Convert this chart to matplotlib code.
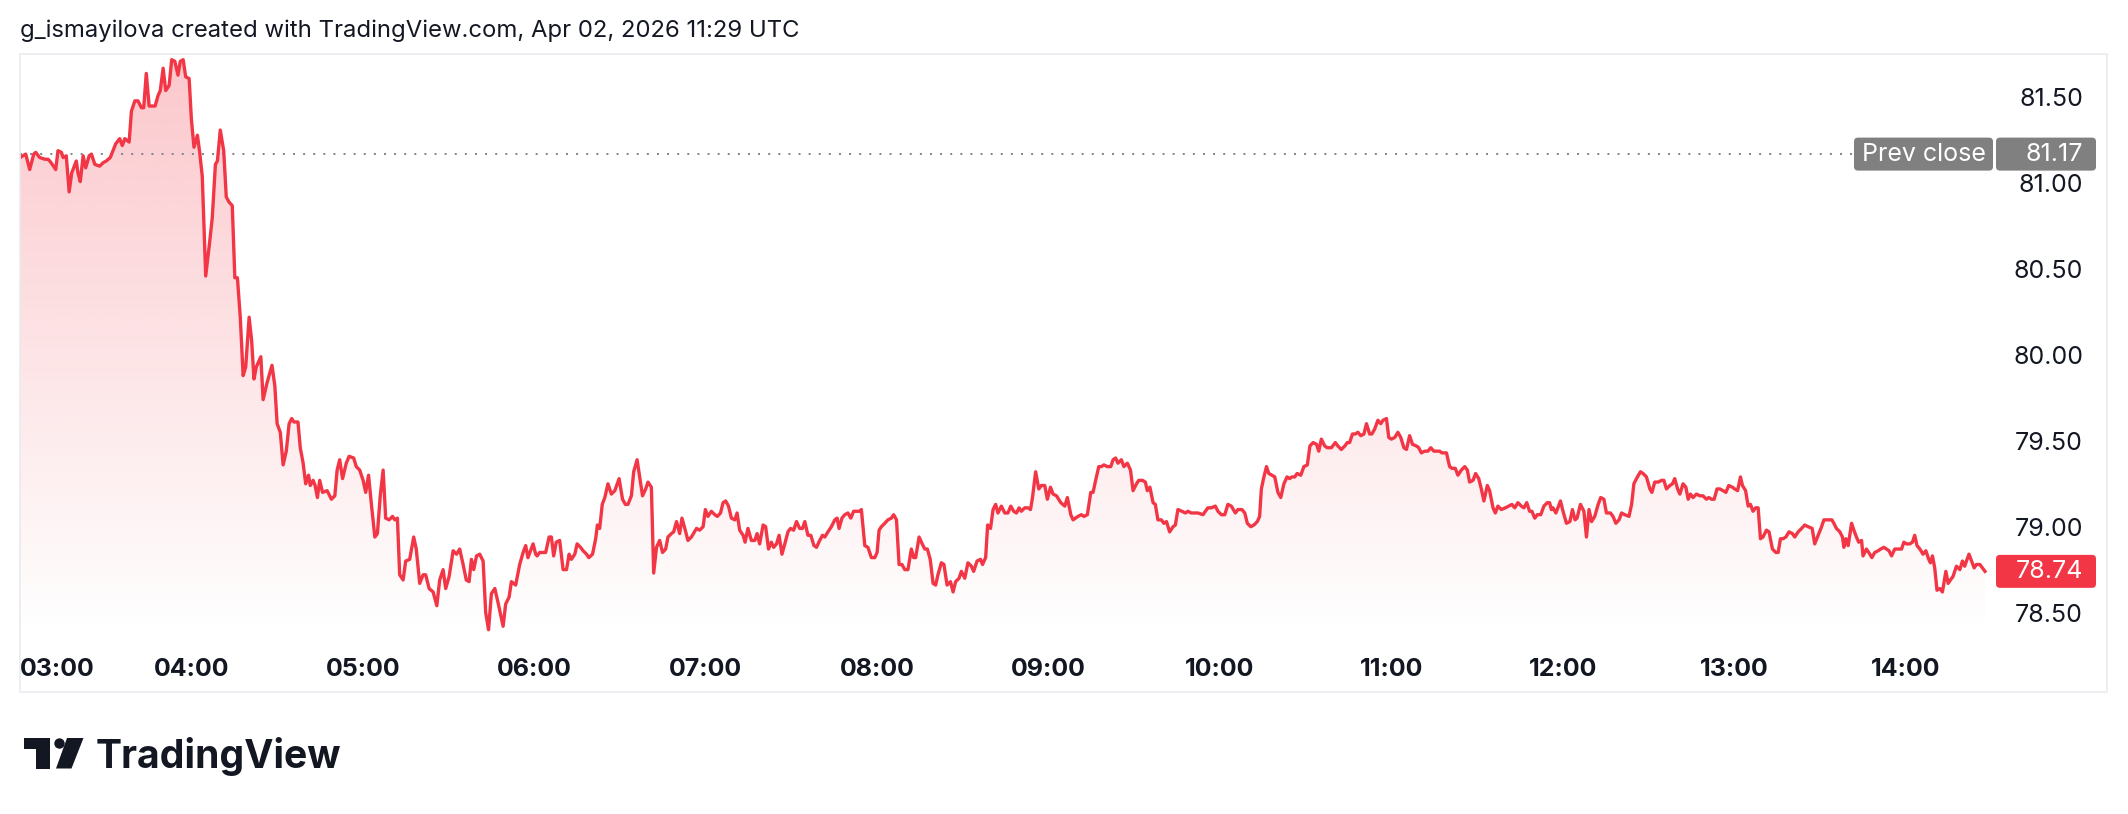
import numpy as np
import matplotlib
matplotlib.use('Agg')
import matplotlib.pyplot as plt
import matplotlib.transforms as mtransforms
from matplotlib.patches import FancyBboxPatch, Rectangle, Circle, Polygon

plt.rcParams['font.family'] = ['Inter', 'DejaVu Sans']

#DATA: minutes after 03:00 and last price
min_a = [0.0, 2.0, 3.4, 4.8, 5.5, 6.9, 8.7, 9.8, 10.4, 11.3,
         12.5, 13.3, 14.5, 15.1, 16.2, 17.2, 18.1, 19.7, 20.3, 21.1,
         22.1, 23.0, 24.2, 25.0, 26.2, 27.9, 29.1, 30.2, 31.6, 33.5,
         34.9, 35.8, 36.7, 38.2, 39.0, 40.2, 41.3, 42.5, 43.3, 44.2,
         45.2, 46.6, 47.3, 48.3, 49.1, 50.1, 51.0, 52.2, 53.1, 54.2,
         55.3, 56.1, 57.1, 58.0, 59.2, 60.0, 60.9, 62.1, 62.9, 63.8,
         65.0, 66.4, 67.3, 68.4, 69.1, 70.1, 71.3, 72.2, 73.2, 74.3,
         75.2, 76.1, 77.1, 78.1, 79.0, 80.2, 81.1, 81.9, 82.7, 84.3,
         85.1, 86.5, 88.2, 89.2, 90.0, 91.1, 92.1, 93.2, 94.2, 95.1,
         95.9, 97.3, 98.1, 99.1, 100.0, 101.0, 101.6, 102.6, 103.3, 104.1,
         104.9, 105.9, 107.5, 109.0, 110.2, 111.0, 111.9, 112.9, 114.2, 115.2,
         116.8, 117.7, 118.9, 120.1, 121.0, 122.0, 123.0, 124.2, 125.1, 126.1,
         127.1, 128.0, 129.2, 130.4, 131.2, 132.1, 132.9, 134.1, 135.0, 136.4,
         137.8, 138.7, 139.9, 141.1, 142.0, 143.2, 144.6, 145.9, 146.9, 148.1,
         149.0, 150.2, 151.6, 152.8, 153.9, 155.1, 156.2, 157.2, 158.0, 158.8,
         159.8, 160.9, 162.1, 163.0, 164.0, 165.0, 166.2, 167.3, 169.1, 170.0,
         171.2, 172.0, 173.5, 174.9, 176.1, 177.0, 177.8, 179.6, 180.5]
px_a = [81.15, 81.17, 81.08, 81.17, 81.18, 81.15, 81.14, 81.14, 81.13, 81.11,
        81.08, 81.19, 81.18, 81.15, 81.16, 80.95, 81.06, 81.13, 81.06, 81.01,
        81.16, 81.09, 81.16, 81.17, 81.11, 81.10, 81.12, 81.13, 81.15, 81.23,
        81.26, 81.22, 81.26, 81.24, 81.42, 81.48, 81.48, 81.44, 81.44, 81.64,
        81.45, 81.45, 81.45, 81.51, 81.54, 81.67, 81.54, 81.57, 81.72, 81.71,
        81.63, 81.71, 81.72, 81.62, 81.61, 81.37, 81.21, 81.28, 81.18, 81.04,
        80.46, 80.66, 80.80, 81.11, 81.13, 81.31, 81.19, 80.92, 80.89, 80.87,
        80.45, 80.45, 80.22, 79.88, 79.93, 80.22, 80.08, 79.86, 79.93, 79.99,
        79.74, 79.84, 79.94, 79.82, 79.60, 79.55, 79.36, 79.44, 79.60, 79.63,
        79.61, 79.61, 79.46, 79.37, 79.25, 79.30, 79.24, 79.27, 79.24, 79.17,
        79.27, 79.20, 79.21, 79.16, 79.18, 79.33, 79.39, 79.28, 79.37, 79.41,
        79.40, 79.35, 79.33, 79.27, 79.20, 79.30, 79.13, 78.94, 78.96, 79.18,
        79.33, 79.05, 79.04, 79.06, 79.04, 79.05, 78.72, 78.69, 78.80, 78.81,
        78.94, 78.87, 78.67, 78.72, 78.72, 78.64, 78.62, 78.54, 78.69, 78.75,
        78.64, 78.71, 78.86, 78.84, 78.87, 78.78, 78.69, 78.68, 78.81, 78.75,
        78.83, 78.84, 78.80, 78.50, 78.40, 78.61, 78.64, 78.56, 78.42, 78.55,
        78.59, 78.68, 78.66, 78.78, 78.85, 78.89, 78.82, 78.90, 78.84]

min_b = [181.0, 181.9, 184.0, 185.2, 186.0, 186.8, 187.7, 188.9, 190.1, 191.3,
         192.2, 193.0, 194.2, 195.0, 196.2, 197.1, 198.3, 199.1, 200.4, 201.5,
         202.1, 202.9, 203.8, 204.7, 205.8, 207.0, 208.2, 209.7, 210.9, 211.9,
         212.8, 214.0, 214.8, 216.0, 216.9, 217.9, 219.0, 219.8, 221.0, 221.8,
         222.8, 223.9, 224.9, 226.0, 226.8, 228.0, 228.8, 229.8, 230.9, 231.7,
         232.7, 233.8, 235.0, 236.8, 237.9, 239.1, 239.9, 240.8, 242.0, 243.2,
         244.1, 245.2, 246.1, 247.0, 248.0, 249.0, 250.2, 251.0, 251.9, 253.1,
         253.8, 254.8, 256.0, 257.2, 258.0, 258.9, 260.1, 261.0, 262.0, 263.0,
         263.8, 264.8, 265.7, 266.7, 267.7, 268.8, 269.7, 270.8, 271.8, 272.9,
         273.9, 274.7, 275.8, 276.8, 277.9, 278.8, 279.9, 280.9, 281.7, 282.8,
         284.0, 285.2, 286.0, 286.7, 287.7, 288.7, 289.8, 290.8, 291.8, 292.8,
         293.9, 294.5, 295.7, 296.8, 298.0, 299.2, 300.0, 300.7, 301.5, 302.7,
         303.8, 305.0, 305.8, 306.8, 307.7, 308.7, 309.7, 310.8, 312.0, 312.8,
         313.5, 314.7, 315.8, 316.7, 317.6, 318.6, 319.6, 320.5, 321.3, 322.5,
         323.4, 324.5, 325.7, 326.6, 327.5, 328.7, 329.5, 330.7, 331.8, 333.0,
         333.8, 335.0, 336.2, 336.9, 338.0, 338.7, 339.7, 340.6, 341.5, 342.3,
         343.5, 344.7, 345.8, 346.8, 347.8, 348.8, 349.7, 350.5, 351.7, 352.8,
         353.7, 354.4, 355.5]
px_b = [78.83, 78.85, 78.85, 78.94, 78.94, 78.83, 78.91, 78.92, 78.75, 78.75,
        78.84, 78.81, 78.84, 78.90, 78.88, 78.86, 78.84, 78.82, 78.84, 78.93,
        79.01, 78.99, 79.13, 79.17, 79.25, 79.19, 79.21, 79.28, 79.16, 79.13,
        79.13, 79.18, 79.32, 79.39, 79.29, 79.18, 79.22, 79.26, 79.23, 78.73,
        78.88, 78.92, 78.85, 78.87, 78.94, 78.96, 78.97, 79.03, 78.96, 79.05,
        78.99, 78.92, 78.94, 78.99, 78.98, 79.00, 79.10, 79.06, 79.09, 79.07,
        79.06, 79.08, 79.14, 79.15, 79.12, 79.05, 79.04, 79.08, 78.98, 78.95,
        78.91, 78.99, 78.92, 78.92, 78.96, 78.90, 79.01, 79.00, 78.87, 78.91,
        78.88, 78.90, 78.95, 78.84, 78.90, 78.97, 78.99, 78.98, 79.03, 78.99,
        78.99, 79.03, 78.95, 78.95, 78.89, 78.88, 78.92, 78.95, 78.94, 78.97,
        79.00, 79.04, 79.05, 78.99, 79.05, 79.07, 79.08, 79.05, 79.09, 79.09,
        79.09, 79.10, 78.89, 78.88, 78.82, 78.82, 78.85, 78.98, 79.00, 79.02,
        79.04, 79.05, 79.07, 79.04, 78.78, 78.78, 78.75, 78.75, 78.87, 78.82,
        78.82, 78.94, 78.90, 78.87, 78.87, 78.81, 78.67, 78.66, 78.72, 78.79,
        78.78, 78.66, 78.68, 78.62, 78.68, 78.70, 78.74, 78.70, 78.79, 78.77,
        78.74, 78.80, 78.81, 78.78, 78.82, 79.01, 78.99, 79.10, 79.13, 79.08,
        79.12, 79.08, 79.08, 79.12, 79.09, 79.08, 79.11, 79.09, 79.11, 79.11,
        79.10, 79.17, 79.32]

min_c = [356.6, 357.5, 358.7, 359.6, 360.7, 361.6, 362.8, 364.3, 365.7, 366.6,
         367.8, 368.6, 370.3, 371.5, 372.4, 373.6, 374.8, 375.6, 376.5, 377.6,
         378.5, 379.4, 380.6, 381.8, 382.6, 383.5, 384.3, 385.5, 386.4, 387.6,
         388.7, 389.6, 390.8, 391.6, 392.9, 393.9, 394.6, 395.5, 396.6, 397.4,
         398.3, 399.5, 400.4, 401.3, 402.4, 403.6, 404.4, 405.3, 406.7, 407.9,
         408.8, 410.0, 412.3, 414.1, 414.9, 415.8, 417.0, 418.4, 419.3, 420.5,
         421.7, 422.8, 424.0, 425.4, 426.3, 427.7, 428.7, 429.6, 430.8, 431.9,
         433.1, 433.9, 434.5, 435.4, 436.3, 437.1, 438.2, 439.2, 440.3, 441.3,
         442.4, 443.5, 444.4, 445.2, 446.2, 447.0, 448.3, 449.4, 450.6, 451.5,
         452.6, 453.8, 454.6, 455.5, 456.7, 457.6, 459.0, 460.4, 461.3, 462.5,
         463.7, 464.6, 465.4, 466.4, 467.4, 468.3, 469.3, 470.4, 471.3, 472.4,
         473.2, 474.2, 475.3, 476.3, 477.1, 478.3, 479.1, 480.0, 481.2, 482.3,
         483.3, 484.4, 485.3, 486.4, 487.4, 488.8, 489.6, 490.5, 491.7, 492.8,
         493.8, 494.9, 495.8, 496.9, 497.7, 499.3, 500.4, 501.2, 502.4, 503.3,
         504.5, 505.7, 506.6, 507.4, 508.6, 509.5, 510.6, 511.5, 512.4, 513.6,
         514.4, 515.6, 516.4, 517.3, 518.5, 519.9, 521.1, 522.2, 523.2, 524.3,
         525.5, 526.4, 527.4, 528.4, 529.2, 530.2, 531.1, 532.3, 533.4, 534.6,
         535.4, 536.0]
px_c = [79.22, 79.24, 79.24, 79.16, 79.23, 79.19, 79.18, 79.14, 79.12, 79.17,
        79.07, 79.04, 79.06, 79.07, 79.06, 79.07, 79.20, 79.20, 79.27, 79.35,
        79.35, 79.36, 79.35, 79.35, 79.39, 79.40, 79.37, 79.39, 79.35, 79.37,
        79.33, 79.21, 79.25, 79.27, 79.27, 79.26, 79.21, 79.23, 79.14, 79.13,
        79.04, 79.04, 79.02, 79.03, 78.97, 79.00, 79.01, 79.10, 79.09, 79.08,
        79.09, 79.08, 79.08, 79.07, 79.09, 79.11, 79.11, 79.12, 79.09, 79.07,
        79.07, 79.13, 79.12, 79.08, 79.10, 79.10, 79.08, 79.02, 79.00, 79.01,
        79.03, 79.06, 79.22, 79.29, 79.35, 79.31, 79.30, 79.29, 79.20, 79.17,
        79.25, 79.29, 79.28, 79.29, 79.29, 79.31, 79.30, 79.35, 79.36, 79.47,
        79.49, 79.48, 79.44, 79.51, 79.47, 79.46, 79.46, 79.49, 79.47, 79.45,
        79.47, 79.49, 79.49, 79.54, 79.54, 79.55, 79.53, 79.54, 79.60, 79.54,
        79.54, 79.57, 79.62, 79.60, 79.62, 79.63, 79.52, 79.51, 79.52, 79.55,
        79.52, 79.46, 79.45, 79.53, 79.48, 79.47, 79.46, 79.43, 79.44, 79.44,
        79.46, 79.44, 79.44, 79.44, 79.43, 79.43, 79.35, 79.34, 79.34, 79.30,
        79.33, 79.35, 79.33, 79.26, 79.27, 79.31, 79.28, 79.22, 79.15, 79.24,
        79.21, 79.11, 79.08, 79.12, 79.10, 79.11, 79.12, 79.13, 79.11, 79.14,
        79.12, 79.11, 79.14, 79.09, 79.09, 79.05, 79.07, 79.07, 79.12, 79.14,
        79.14, 79.10]

min_d = [536.6, 537.6, 539.2, 540.1, 541.3, 542.5, 543.4, 544.3, 545.0, 546.2,
         547.4, 548.3, 549.2, 550.1, 551.2, 552.4, 553.3, 554.4, 555.3, 556.7,
         557.6, 558.6, 559.7, 560.6, 561.7, 563.2, 564.1, 564.9, 565.8, 567.2,
         568.1, 569.3, 570.5, 571.2, 572.2, 573.4, 574.6, 575.4, 576.3, 577.5,
         578.4, 579.2, 580.2, 581.0, 582.1, 583.1, 583.9, 584.7, 585.6, 586.8,
         588.0, 589.1, 590.3, 591.1, 592.1, 593.0, 594.0, 595.0, 596.1, 597.1,
         598.1, 599.4, 600.2, 601.2, 602.2, 602.9, 604.0, 604.9, 605.7, 606.6,
         607.5, 608.4, 609.2, 610.1, 611.3, 612.2, 613.4, 614.6, 615.4, 616.2,
         617.1, 618.1, 619.2, 620.4, 621.2, 622.4, 623.6, 624.7, 625.9, 627.3,
         628.2, 629.4, 630.6, 631.4, 632.3, 633.2, 634.2, 634.9, 635.8, 637.0,
         637.9, 638.4, 639.1, 639.9, 641.1, 641.9, 642.8, 643.6, 644.6, 645.1,
         646.3, 647.5, 648.2, 649.2, 650.4, 651.3, 652.4, 653.3, 654.2, 655.1,
         656.2, 657.4, 658.6, 659.4, 660.3, 661.5, 662.4, 663.2, 664.0, 665.0,
         666.1, 667.1, 668.1, 668.7, 669.4, 670.2, 671.0, 672.0, 672.9, 674.1,
         674.9, 675.7, 676.6, 677.8, 679.0, 679.9, 680.7, 681.3, 682.2, 683.1,
         684.0, 684.8, 686.0, 686.9, 687.8]
px_d = [79.11, 79.08, 79.15, 79.09, 79.02, 79.03, 79.10, 79.04, 79.05, 79.13,
        79.09, 78.94, 79.10, 79.03, 79.06, 79.13, 79.17, 79.16, 79.08, 79.08,
        79.06, 79.02, 79.04, 79.08, 79.07, 79.06, 79.13, 79.25, 79.28, 79.32,
        79.31, 79.29, 79.22, 79.20, 79.26, 79.26, 79.27, 79.27, 79.22, 79.24,
        79.25, 79.28, 79.22, 79.19, 79.25, 79.23, 79.16, 79.19, 79.17, 79.19,
        79.18, 79.18, 79.16, 79.17, 79.16, 79.16, 79.22, 79.22, 79.21, 79.20,
        79.24, 79.23, 79.22, 79.21, 79.29, 79.24, 79.21, 79.12, 79.13, 79.09,
        79.11, 79.11, 78.93, 78.94, 78.98, 78.97, 78.87, 78.85, 78.85, 78.93,
        78.93, 78.94, 78.97, 78.96, 78.94, 78.97, 78.99, 79.01, 79.00, 78.99,
        78.90, 78.95, 79.00, 79.04, 79.04, 79.04, 79.04, 79.02, 78.99, 78.97,
        78.94, 78.88, 78.93, 78.89, 79.02, 78.98, 78.94, 78.91, 78.92, 78.83,
        78.87, 78.84, 78.82, 78.85, 78.86, 78.87, 78.88, 78.87, 78.86, 78.83,
        78.87, 78.87, 78.87, 78.91, 78.90, 78.90, 78.91, 78.95, 78.89, 78.87,
        78.84, 78.86, 78.81, 78.79, 78.83, 78.76, 78.63, 78.64, 78.62, 78.74,
        78.67, 78.69, 78.71, 78.77, 78.75, 78.80, 78.77, 78.80, 78.84, 78.80,
        78.76, 78.78, 78.78, 78.76, 78.74]

minutes = min_a + min_b + min_c + min_d
prices = px_a + px_b + px_c + px_d
assert len(minutes) == len(prices)

hour_ticks = [0, 60, 120, 180, 240, 300, 360, 420, 480, 540, 600, 660]
hour_labels = ['03:00', '04:00', '05:00', '06:00', '07:00', '08:00',
               '09:00', '10:00', '11:00', '12:00', '13:00', '14:00']
price_ticks = [78.5, 79.0, 79.5, 80.0, 80.5, 81.0, 81.5]
prev_close = 81.17
title = 'g_ismayilova created with TradingView.com, Apr 02, 2026 11:29 UTC'

#STYLE
RED = '#f23645'
INK = '#131722'
W, H = 2128, 814
YLO, YHI = 78.381, 81.753
XHI = 691.3

fig = plt.figure(figsize=(W / 100, H / 100), dpi=100)
fig.patch.set_facecolor('white')

def rect(x0, y0, x1, y1):   # pixel box -> figure fraction
    return [x0 / W, 1 - y1 / H, (x1 - x0) / W, (y1 - y0) / H]

#PRICE PANE
ax = fig.add_axes(rect(20, 54, 1995, 633))
for s in ax.spines.values():
    s.set_visible(False)

fill = ax.fill_between(minutes, prices, YLO, facecolor='none', edgecolor='none')
grad = np.zeros((256, 1, 4))
grad[..., :3] = matplotlib.colors.to_rgb(RED)
grad[:, 0, 3] = np.linspace(0.28, 0.0, 256)
im = ax.imshow(grad, extent=[minutes[0], minutes[-1], YLO, YHI], aspect='auto',
               origin='upper', zorder=1, interpolation='bilinear')
im.set_clip_path(fill.get_paths()[0], transform=ax.transData)

ax.plot(minutes, prices, color=RED, lw=2.4, solid_joinstyle='round', zorder=3)
ax.axhline(prev_close, xmin=0, xmax=(1854 - 20) / 1975, color='#7f838d', lw=1.4,
           linestyle=(0, (1, 4.2)), zorder=2)

ax.set_xlim(0, XHI)
ax.set_ylim(YLO, YHI)

ax.set_xticks(hour_ticks)
ax.set_xticklabels(hour_labels, fontweight='bold')
ax.tick_params(axis='x', length=0, pad=18, labelsize=18, labelcolor=INK)
ax.get_xticklabels()[0].set_ha('left')

ax.yaxis.tick_right()
ax.set_yticks(price_ticks)
ax.set_yticklabels(['%.2f' % v for v in price_ticks])
ax.tick_params(axis='y', length=0, pad=63.4, labelsize=18, labelcolor=INK)
for lab in ax.get_yticklabels():
    lab.set_ha('right')

#OVERLAY (pixel coords) for frame, tags, title, logo
ov = fig.add_axes([0, 0, 1, 1])
ov.set_xlim(0, W)
ov.set_ylim(H, 0)
ov.axis('off')

ov.add_patch(Rectangle((20, 54), 2087, 638, fill=False, ec='#e9ebef', lw=1.2))

upp = (YHI - YLO) / 579.0
trans = mtransforms.blended_transform_factory(ov.transData, ax.transData)

def tag(x0, x1, y, text, color, tx, ha):
    h = 33 * upp
    ov.add_patch(FancyBboxPatch((x0, y - h / 2), x1 - x0, h,
                                boxstyle='round,pad=0,rounding_size=4',
                                mutation_aspect=upp, transform=trans,
                                fc=color, ec='none', clip_on=False))
    ov.text(tx, y, text, transform=trans, ha=ha, va='center',
            color='white', fontsize=18, clip_on=False)

tag(1854, 1993, prev_close, 'Prev close', '#808080', 1923.5, 'center')
tag(1996, 2096, prev_close, '%.2f' % prev_close, '#808080', 2083, 'right')
tag(1996, 2096, prices[-1], '%.2f' % prices[-1], RED, 2083, 'right')

ov.text(20, 31, title, fontsize=17.2, color=INK, ha='left', va='center')

# TradingView logo
ov.add_patch(Polygon([(24, 738), (49.5, 738), (49.5, 768.5), (36, 768.5),
                      (36, 748.5), (24, 748.5)], closed=True, fc=INK, ec='none'))
ov.add_patch(Circle((59.5, 743.5), 5.2, fc=INK, ec='none'))
ov.add_patch(Polygon([(67, 738), (83.5, 738), (71.5, 768.5), (56, 768.5)],
                     closed=True, fc=INK, ec='none'))
ov.text(96, 768.5, 'TradingView', fontsize=28.2, fontweight='bold', color=INK,
        ha='left', va='baseline')

fig.savefig('out.png', dpi=100)
